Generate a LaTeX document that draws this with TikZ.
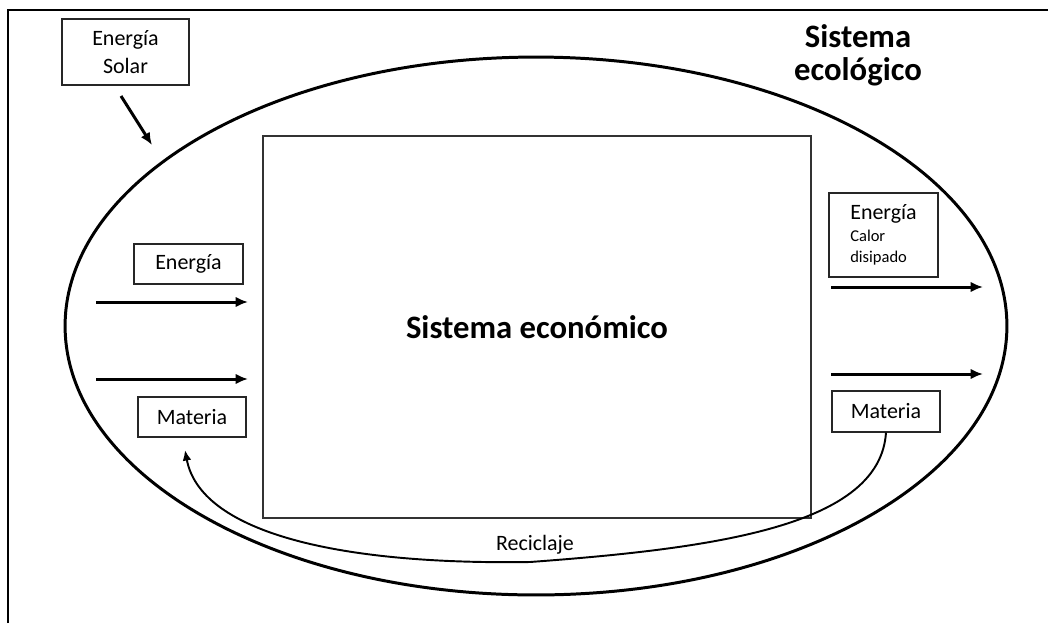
\documentclass[tikz,border=0pt]{standalone}
\usepackage{fontspec}
\setmainfont{Carlito}
\usetikzlibrary{arrows.meta}
\newcommand\smalltxt{\fontsize{9.4}{11.5}\selectfont}
\tikzset{
  box/.style={draw=black!85, line width=0.6pt, inner sep=0pt, align=center,
              font=\fontsize{12.5}{16}\selectfont},
  flow/.style={line width=1.7pt, -{Latex[length=7pt,width=6pt]}},
  heading/.style={font=\fontsize{18.6}{18.7}\selectfont\bfseries, align=center}
}
\begin{document}
\begin{tikzpicture}[x=0.02cm, y=-0.02cm]
      \useasboundingbox (0,0) rectangle (1048,623);
      % frame and ecological system
      \draw[line width=1.4pt] (8,623) -- (8,10) -- (1048,10);
      \draw[line width=1.7pt] (536,326) ellipse [x radius=9.42cm, y radius=5.38cm];
      \node[heading] (eco) at (858,55) {Sistema\\ecológico};
      \node[draw=black!80, line width=0.75pt, minimum width=10.96cm, minimum height=7.64cm,
            heading] (econ) at (537,327) {Sistema económico};
      % boxes
      \node[box, minimum width=2.54cm, minimum height=1.32cm] (solar) at (125.5,52) {Energía\\Solar};
      \node[box, minimum width=2.18cm, minimum height=0.8cm] (enL) at (188.5,264) {Energía};
      \node[box, minimum width=2.16cm, minimum height=0.8cm] (matL) at (192,417) {Materia};
      \node[box, minimum width=2.18cm, minimum height=1.68cm, align=left] (enR) at (883.5,235)
            {Energía\\[-3.8pt]\smalltxt Calor\\[-4pt]\smalltxt disipado};
      \node[box, minimum width=2.16cm, minimum height=0.82cm] (matR) at (886,411.5) {Materia};
      % arrow ends
      \coordinate (sunA) at (121,96);   \coordinate (sunB) at (152,145);
      \coordinate (inE) at (96,302);    \coordinate (econE) at (248,302);
      \coordinate (inM) at (96,379);    \coordinate (econM) at (248,379);
      \coordinate (outE) at (831,287);  \coordinate (sinkE) at (983,287);
      \coordinate (outM) at (831,374);  \coordinate (sinkM) at (983,374);
      \coordinate (back) at (185,450);
      \draw[flow] (sunA) -- (sunB);
      \draw[flow] (inE) -- (econE);
      \draw[flow] (inM) -- (econM);
      \draw[flow] (outE) -- (sinkE);
      \draw[flow] (outM) -- (sinkM);
      % recycling
      \draw[line width=1.1pt, -{Latex[length=6pt,width=5pt]}] (matR.south)
            .. controls (880,525) and (720,548) .. (530,562)
            .. controls (330,565) and (200,530) .. (back);
      \node[font=\fontsize{12.5}{15}\selectfont] (recycle) at (535,545) {Reciclaje};
\end{tikzpicture}
\end{document}
